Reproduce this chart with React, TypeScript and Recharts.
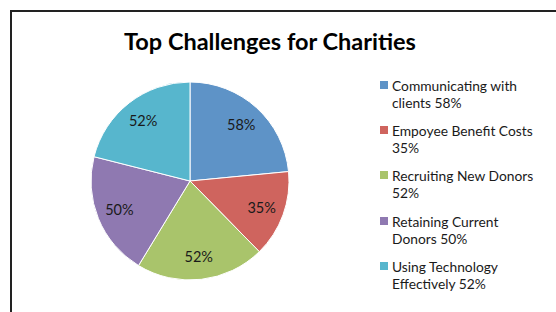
import React from "react";
import { PieChart, Pie, Cell, Legend } from "recharts";

const categories = [
  "Communicating with clients",
  "Empoyee Benefit Costs",
  "Recruiting New Donors",
  "Retaining Current Donors",
  "Using Technology Effectively",
];
const values = [58, 35, 52, 50, 52];
const legendLabels = [
  ["Communicating with", "clients 58%"],
  ["Empoyee Benefit Costs", "35%"],
  ["Recruiting New Donors", "52%"],
  ["Retaining Current", "Donors 50%"],
  ["Using Technology", "Effectively 52%"],
];
const colors = ["#5E93C7", "#CF645E", "#A9C46B", "#8F79B1", "#57B6CD"];

const data = categories.map((name, i) => ({ name, value: values[i] }));

const FONT = "Lato, 'DejaVu Sans', sans-serif";

const RADIAN = Math.PI / 180;
const renderLabel = (props: any) => {
  const { cx, cy, midAngle, outerRadius, value } = props;
  const r = outerRadius * 0.77;
  const x = cx + r * Math.cos(-midAngle * RADIAN);
  const y = cy + r * Math.sin(-midAngle * RADIAN);
  return (
    <text
      x={x}
      y={y}
      fill="#1a1a1a"
      fontSize={14.5}
      fontFamily={FONT}
      textAnchor="middle"
      dominantBaseline="central"
    >
      {`${value}%`}
    </text>
  );
};

const renderLegend = () => (
  <div style={{ fontFamily: FONT, fontSize: 13.8, color: "#1a1a1a" }}>
    {legendLabels.map((lines, i) => (
      <div
        key={i}
        style={{ position: "relative", height: 45.2, paddingLeft: 12 }}
      >
        <div
          style={{
            position: "absolute",
            left: 0,
            top: 4,
            width: 8,
            height: 8,
            background: colors[i],
          }}
        />
        <div style={{ lineHeight: "17px" }}>{lines[0]}</div>
        <div style={{ lineHeight: "17px" }}>{lines[1]}</div>
      </div>
    ))}
  </div>
);

export default function App() {
  return (
    <div
      style={{
        position: "absolute",
        left: 0,
        top: 0,
        width: 556,
        height: 312,
        overflow: "hidden",
        background: "#fff",
      }}
    >
      <div
        style={{
          position: "absolute",
          left: 10,
          top: 10,
          width: 580,
          height: 340,
          border: "2px solid #222",
        }}
      />
      <div
        style={{
          position: "absolute",
          left: 0,
          top: 27,
          width: 540,
          textAlign: "center",
          fontFamily: FONT,
          fontWeight: 700,
          fontSize: 23.5,
          color: "#000",
        }}
      >
        Top Challenges for Charities
      </div>
      <div style={{ position: "absolute", left: 0, top: 0 }}>
        <PieChart width={556} height={312} margin={{ top: 0, right: 0, bottom: 0, left: 0 }}>
          <Pie
            data={data}
            dataKey="value"
            nameKey="name"
            cx={190}
            cy={181}
            outerRadius={99}
            startAngle={90}
            endAngle={-270}
            stroke="#ffffff"
            strokeWidth={1}
            label={renderLabel}
            labelLine={false}
            isAnimationActive={false}
          >
            {data.map((d, i) => (
              <Cell key={d.name} fill={colors[i]} />
            ))}
          </Pie>
          <Legend
            content={renderLegend}
            layout="vertical"
            wrapperStyle={{ position: "absolute", left: 380, top: 77, width: 175 }}
          />
        </PieChart>
      </div>
    </div>
  );
}
